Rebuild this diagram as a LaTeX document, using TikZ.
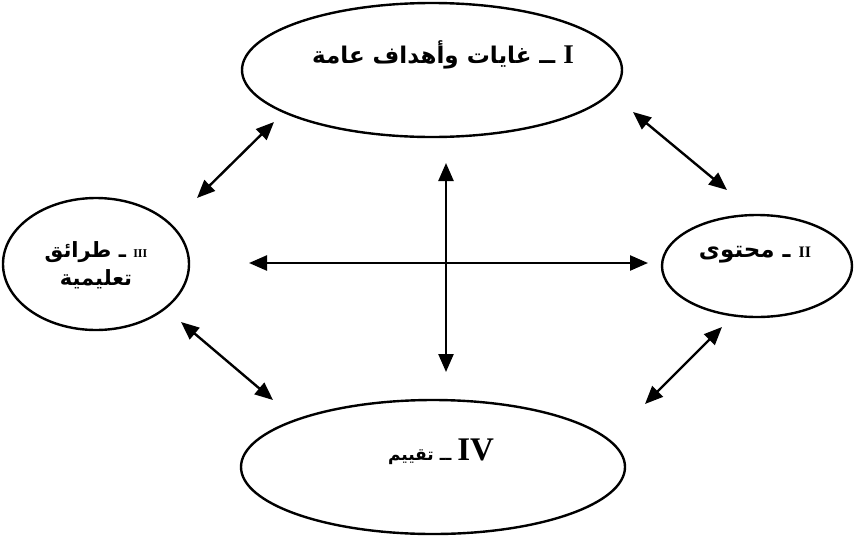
\documentclass[tikz,border=0pt]{standalone}
\usepackage{fontspec}
\setmainfont{Liberation Serif}
\newfontfamily\arabicfont[Script=Arabic]{DejaVu Sans}
\newfontfamily\latinfont{Liberation Serif}
\TeXXeTstate=1
\usetikzlibrary{shapes.geometric,arrows.meta}
\begin{document}
\begin{tikzpicture}[x=1pt,y=-1pt,
  oval/.style={draw,ellipse,line width=2.4pt,inner sep=0pt},
  dbl/.style={{Triangle[length=18pt,width=15pt]}-{Triangle[length=18pt,width=15pt]},line width=2.4pt},
  lbl/.style={inner sep=0pt,align=center}]
\useasboundingbox (0,0) rectangle (858,541);
% ovals
\node[oval,minimum width=380pt,minimum height=134pt] (goals) at (432,70) {};
\node[oval,minimum width=186pt,minimum height=132pt] (methods) at (96,264) {};
\node[oval,minimum width=190pt,minimum height=102pt] (content) at (757,266) {};
\node[oval,minimum width=384pt,minimum height=134pt] (evaluation) at (433,467) {};
% labels
\node[lbl,font=\arabicfont\bfseries\fontsize{23}{28}\selectfont] (tgoals) at (443,55) {\beginR{\latinfont\bfseries\fontsize{27}{30}\selectfont I} ــ غايات وأهداف عامة\endR};
\node[lbl,font=\arabicfont\bfseries\fontsize{21}{28}\selectfont] (tmethods) at (96,265) {\beginR{\latinfont\bfseries\fontsize{12}{14}\selectfont III} ـ طرائق\endR\\\beginR تعليمية\endR};
\node[lbl,font=\arabicfont\bfseries\fontsize{23}{28}\selectfont] (tcontent) at (755,255) {\beginR{\latinfont\bfseries\fontsize{16}{20}\selectfont II} ـ محتوى\endR};
\node[lbl,font=\arabicfont\bfseries\fontsize{17}{20}\selectfont] (teval) at (441,452) {\beginR{\latinfont\fontsize{33}{36}\selectfont IV} ــ تقييم\endR};
% arrow end points
\coordinate (gm) at (274,122); \coordinate (mg) at (197,198);
\coordinate (me) at (181,322); \coordinate (em) at (273,400);
\coordinate (gc) at (633,112); \coordinate (cg) at (727,190);
\coordinate (ce) at (722,327); \coordinate (ec) at (645,404);
\coordinate (hl) at (249,263); \coordinate (hr) at (648,263);
\coordinate (vt) at (446,163); \coordinate (vb) at (446,372);
\draw[dbl] (mg) -- (gm);
\draw[dbl] (me) -- (em);
\draw[dbl] (gc) -- (cg);
\draw[dbl] (ce) -- (ec);
\draw[dbl] (hl) -- (hr);
\draw[dbl] (vt) -- (vb);
\end{tikzpicture}
\end{document}
